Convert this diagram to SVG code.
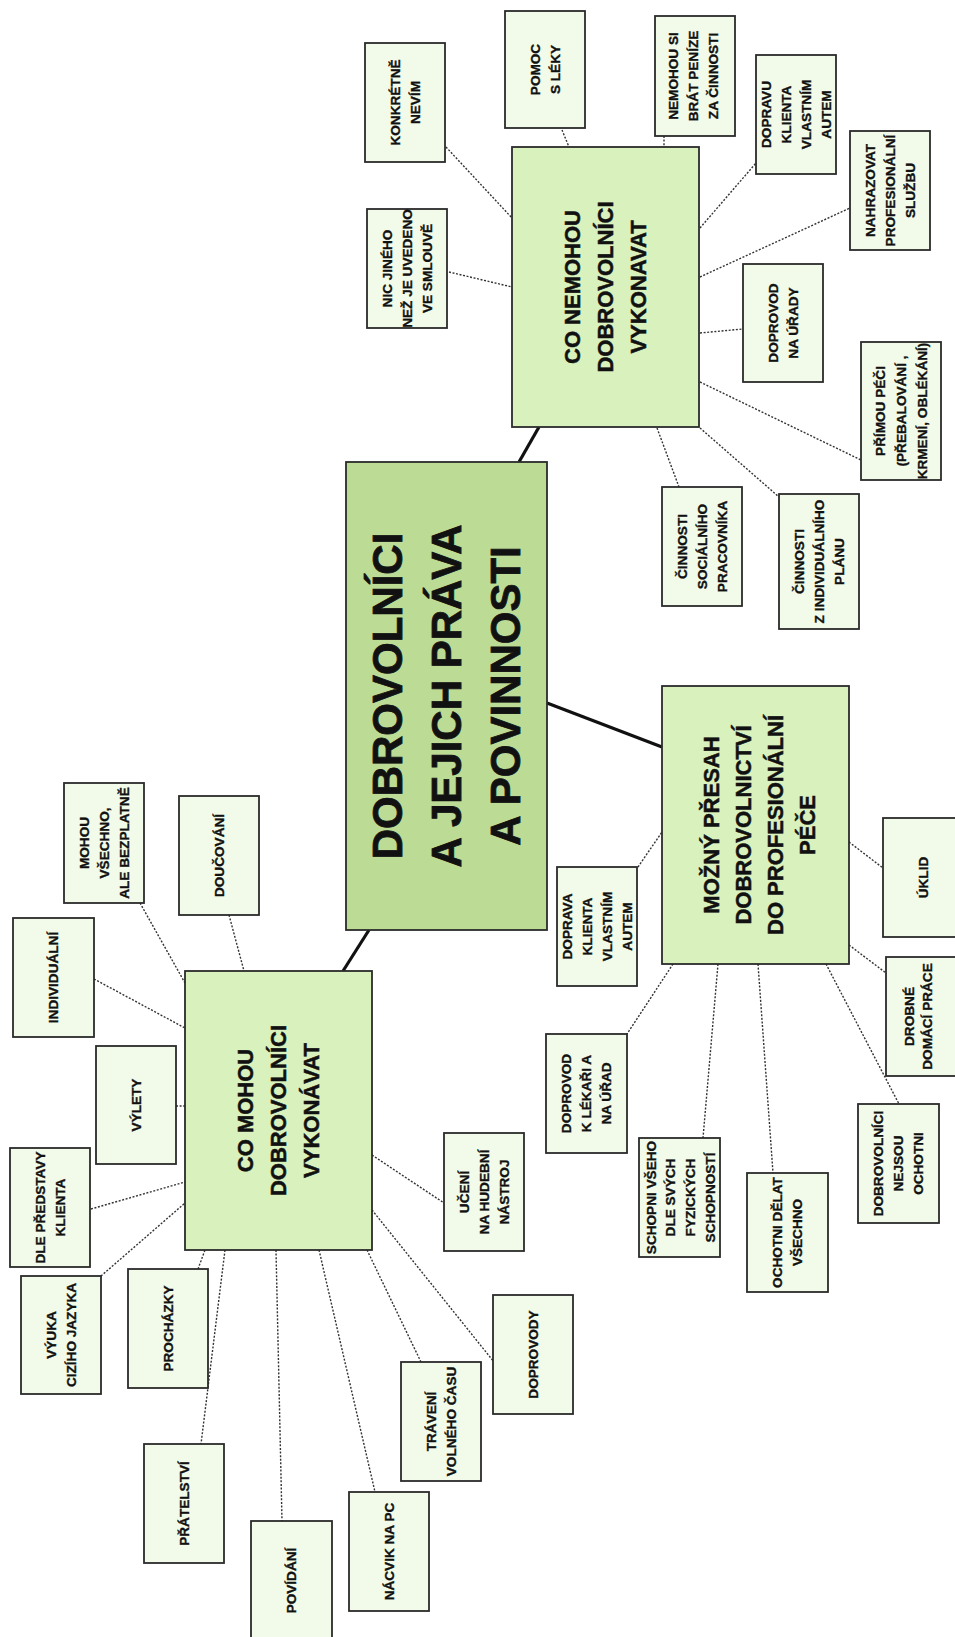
<svg xmlns="http://www.w3.org/2000/svg" width="955" height="1637" viewBox="0 0 955 1637">
<style>
.leaf rect{fill:#f2fbe9;stroke:#2b2b2b;stroke-width:1.8}
.mid rect{fill:#d9f1bd;stroke:#2b2b2b;stroke-width:1.8}
.main rect{fill:#bcdc96;stroke:#2b2b2b;stroke-width:1.8}
text{font-family:"Liberation Sans",Arial,sans-serif;font-weight:bold;fill:#111;stroke:#111;stroke-width:0.35;text-anchor:middle;dominant-baseline:central}
.leaf text{font-size:13.6px}
.mid text{font-size:22px;stroke-width:0.5}
.main text{font-size:42px;stroke-width:0.8}
.dot{stroke:#333;stroke-width:1.4;stroke-dasharray:2 1.6;fill:none}
.solid{stroke:#111;stroke-width:3.2;fill:none}
</style>
<rect width="955" height="1637" fill="#ffffff"/>
<g id="connectors">
<line class="solid" x1="519" y1="462" x2="539" y2="427"/>
<line class="solid" x1="547" y1="703" x2="662" y2="747"/>
<line class="solid" x1="369" y1="930" x2="343" y2="971"/>
<line class="dot" x1="446" y1="147" x2="512" y2="218"/>
<line class="dot" x1="562" y1="130" x2="569" y2="147"/>
<line class="dot" x1="664" y1="136" x2="664" y2="147"/>
<line class="dot" x1="700" y1="228" x2="756" y2="163"/>
<line class="dot" x1="700" y1="277" x2="850" y2="208"/>
<line class="dot" x1="449" y1="272" x2="512" y2="287"/>
<line class="dot" x1="700" y1="333" x2="743" y2="329"/>
<line class="dot" x1="700" y1="382" x2="861" y2="460"/>
<line class="dot" x1="657" y1="428" x2="679" y2="487"/>
<line class="dot" x1="700" y1="428" x2="779" y2="497"/>
<line class="dot" x1="140" y1="903" x2="185" y2="983"/>
<line class="dot" x1="229" y1="915" x2="244" y2="971"/>
<line class="dot" x1="94" y1="979" x2="185" y2="1028"/>
<line class="dot" x1="176" y1="1106" x2="185" y2="1106"/>
<line class="dot" x1="91" y1="1209" x2="185" y2="1182"/>
<line class="dot" x1="101" y1="1276" x2="185" y2="1203"/>
<line class="dot" x1="198" y1="1269" x2="205" y2="1250"/>
<line class="dot" x1="225" y1="1250" x2="201" y2="1444"/>
<line class="dot" x1="276" y1="1250" x2="282" y2="1521"/>
<line class="dot" x1="319" y1="1250" x2="375" y2="1492"/>
<line class="dot" x1="367" y1="1250" x2="421" y2="1362"/>
<line class="dot" x1="372" y1="1210" x2="494" y2="1362"/>
<line class="dot" x1="372" y1="1155" x2="444" y2="1203"/>
<line class="dot" x1="638" y1="867" x2="662" y2="832"/>
<line class="dot" x1="849" y1="842" x2="883" y2="868"/>
<line class="dot" x1="849" y1="945" x2="886" y2="973"/>
<line class="dot" x1="826" y1="964" x2="899" y2="1104"/>
<line class="dot" x1="758" y1="964" x2="773" y2="1173"/>
<line class="dot" x1="718" y1="964" x2="703" y2="1138"/>
<line class="dot" x1="673" y1="964" x2="627" y2="1034"/>
</g>
<g id="main" class="main"><rect x="346" y="462" width="201" height="468"/>
<g transform="translate(446.5,696) rotate(-90)"><text x="0" y="-59">DOBROVOLNÍCI</text><text x="0" y="0">A JEJICH PRÁVA</text><text x="0" y="59">A POVINNOSTI</text></g></g>
<g id="co-nemohou" class="mid"><rect x="512" y="147" width="187" height="280"/>
<g transform="translate(605.5,287) rotate(-90)"><text x="0" y="-33">CO NEMOHOU</text><text x="0" y="0">DOBROVOLNÍCI</text><text x="0" y="33">VYKONAVAT</text></g></g>
<g id="mozny-presah" class="mid"><rect x="662" y="686" width="187" height="278"/>
<g transform="translate(759,825) rotate(-90)"><text x="0" y="-48">MOŽNÝ PŘESAH</text><text x="0" y="-16">DOBROVOLNICTVÍ</text><text x="0" y="16">DO PROFESIONÁLNÍ</text><text x="0" y="48">PÉČE</text></g></g>
<g id="co-mohou" class="mid"><rect x="185" y="971" width="187" height="279"/>
<g transform="translate(278.5,1110.5) rotate(-90)"><text x="0" y="-33">CO MOHOU</text><text x="0" y="0">DOBROVOLNÍCI</text><text x="0" y="33">VYKONÁVAT</text></g></g>

<g id="konkretne" class="leaf"><rect x="365" y="43" width="80" height="119"/>
<g transform="translate(405,102.5) rotate(-90)"><text x="0" y="-10">KONKRÉTNĚ</text><text x="0" y="10">NEVÍM</text></g></g>
<g id="pomoc" class="leaf"><rect x="505" y="11" width="80" height="117"/>
<g transform="translate(545,69.5) rotate(-90)"><text x="0" y="-10">POMOC</text><text x="0" y="10">S LÉKY</text></g></g>
<g id="penize" class="leaf"><rect x="655" y="16" width="80" height="120"/>
<g transform="translate(693,76) rotate(-90)"><text x="0" y="-20">NEMOHOU SI</text><text x="0" y="0">BRÁT PENÍZE</text><text x="0" y="20">ZA ČINNOSTI</text></g></g>
<g id="dopravu" class="leaf"><rect x="756" y="55" width="80" height="119"/>
<g transform="translate(796,114.5) rotate(-90)"><text x="0" y="-30">DOPRAVU</text><text x="0" y="-10">KLIENTA</text><text x="0" y="10">VLASTNÍM</text><text x="0" y="30">AUTEM</text></g></g>
<g id="nahrazovat" class="leaf"><rect x="850" y="131" width="80" height="119"/>
<g transform="translate(890,190.5) rotate(-90)"><text x="0" y="-20">NAHRAZOVAT</text><text x="0" y="0">PROFESIONÁLNÍ</text><text x="0" y="20">SLUŽBU</text></g></g>
<g id="nic-jineho" class="leaf"><rect x="367" y="209" width="80" height="119"/>
<g transform="translate(407,268.5) rotate(-90)"><text x="0" y="-20">NIC JINÉHO</text><text x="0" y="0">NEŽ JE UVEDENO</text><text x="0" y="20">VE SMLOUVĚ</text></g></g>
<g id="doprovod-urady" class="leaf"><rect x="743" y="264" width="80" height="118"/>
<g transform="translate(783,323) rotate(-90)"><text x="0" y="-10">DOPROVOD</text><text x="0" y="10">NA ÚŘADY</text></g></g>
<g id="primou-peci" class="leaf"><rect x="861" y="342" width="80" height="138"/>
<g transform="translate(901,411) rotate(-90)"><text x="0" y="-21">PŘÍMOU PÉČI</text><text x="0" y="0">(PŘEBALOVÁNÍ ,</text><text x="0" y="21">KRMENÍ, OBLÉKÁNÍ)</text></g></g>
<g id="cinnosti-soc" class="leaf"><rect x="662" y="487" width="80" height="119"/>
<g transform="translate(702,546.5) rotate(-90)"><text x="0" y="-20">ČINNOSTI</text><text x="0" y="0">SOCIÁLNÍHO</text><text x="0" y="20">PRACOVNÍKA</text></g></g>
<g id="cinnosti-ind" class="leaf"><rect x="779" y="494" width="80" height="135"/>
<g transform="translate(819,561.5) rotate(-90)"><text x="0" y="-20">ČINNOSTI</text><text x="0" y="0">Z INDIVIDUÁLNÍHO</text><text x="0" y="20">PLÁNU</text></g></g>

<g id="mohou-vsechno" class="leaf"><rect x="64" y="783" width="80" height="120"/>
<g transform="translate(104,843) rotate(-90)"><text x="0" y="-20">MOHOU</text><text x="0" y="0">VŠECHNO,</text><text x="0" y="20">ALE BEZPLATNĚ</text></g></g>
<g id="doucovani" class="leaf"><rect x="179" y="796" width="80" height="119"/>
<g transform="translate(219,855.5) rotate(-90)"><text x="0" y="0">DOUČOVÁNÍ</text></g></g>
<g id="individualni" class="leaf"><rect x="13" y="918" width="81" height="119"/>
<g transform="translate(53.5,977.5) rotate(-90)"><text x="0" y="0">INDIVIDUÁLNÍ</text></g></g>
<g id="vylety" class="leaf"><rect x="96" y="1046" width="80" height="118"/>
<g transform="translate(136,1105) rotate(-90)"><text x="0" y="0">VÝLETY</text></g></g>
<g id="dle-predstavy" class="leaf"><rect x="10" y="1148" width="80" height="119"/>
<g transform="translate(50,1207.5) rotate(-90)"><text x="0" y="-10">DLE PŘEDSTAVY</text><text x="0" y="10">KLIENTA</text></g></g>
<g id="vyuka" class="leaf"><rect x="21" y="1276" width="80" height="118"/>
<g transform="translate(61,1335) rotate(-90)"><text x="0" y="-10">VÝUKA</text><text x="0" y="10">CIZÍHO JAZYKA</text></g></g>
<g id="prochazky" class="leaf"><rect x="128" y="1269" width="80" height="119"/>
<g transform="translate(168,1328.5) rotate(-90)"><text x="0" y="0">PROCHÁZKY</text></g></g>
<g id="pratelstvi" class="leaf"><rect x="144" y="1444" width="80" height="119"/>
<g transform="translate(184,1503.5) rotate(-90)"><text x="0" y="0">PŘÁTELSTVÍ</text></g></g>
<g id="povidani" class="leaf"><rect x="251" y="1521" width="81" height="119"/>
<g transform="translate(291.5,1580.5) rotate(-90)"><text x="0" y="0">POVÍDÁNÍ</text></g></g>
<g id="nacvik" class="leaf"><rect x="349" y="1492" width="80" height="119"/>
<g transform="translate(389,1551.5) rotate(-90)"><text x="0" y="0">NÁCVIK NA PC</text></g></g>
<g id="traveni" class="leaf"><rect x="401" y="1362" width="80" height="119"/>
<g transform="translate(441,1421.5) rotate(-90)"><text x="0" y="-10">TRÁVENÍ</text><text x="0" y="10">VOLNÉHO ČASU</text></g></g>
<g id="doprovody" class="leaf"><rect x="493" y="1295" width="80" height="119"/>
<g transform="translate(533,1354.5) rotate(-90)"><text x="0" y="0">DOPROVODY</text></g></g>
<g id="uceni" class="leaf"><rect x="444" y="1133" width="80" height="118"/>
<g transform="translate(484,1192) rotate(-90)"><text x="0" y="-20">UČENÍ</text><text x="0" y="0">NA HUDEBNÍ</text><text x="0" y="20">NÁSTROJ</text></g></g>

<g id="doprava-klienta" class="leaf"><rect x="557" y="867" width="80" height="119"/>
<g transform="translate(597,926.5) rotate(-90)"><text x="0" y="-30">DOPRAVA</text><text x="0" y="-10">KLIENTA</text><text x="0" y="10">VLASTNÍM</text><text x="0" y="30">AUTEM</text></g></g>
<g id="uklid" class="leaf"><rect x="883" y="818" width="80" height="119"/>
<g transform="translate(923,877.5) rotate(-90)"><text x="0" y="0">ÚKLID</text></g></g>
<g id="drobne" class="leaf"><rect x="886" y="957" width="80" height="119"/>
<g transform="translate(918,1016.5) rotate(-90)"><text x="0" y="-9">DROBNÉ</text><text x="0" y="9">DOMÁCÍ PRÁCE</text></g></g>
<g id="doprovod-lekari" class="leaf"><rect x="546" y="1034" width="81" height="119"/>
<g transform="translate(586.5,1093.5) rotate(-90)"><text x="0" y="-20">DOPROVOD</text><text x="0" y="0">K LÉKAŘI A</text><text x="0" y="20">NA ÚŘAD</text></g></g>
<g id="schopni" class="leaf"><rect x="639" y="1138" width="81" height="119"/>
<g transform="translate(680.5,1197.5) rotate(-90)"><text x="0" y="-29.5">SCHOPNI VŠEHO</text><text x="0" y="-9.8">DLE SVÝCH</text><text x="0" y="9.8">FYZICKÝCH</text><text x="0" y="29.5">SCHOPNOSTÍ</text></g></g>
<g id="ochotni" class="leaf"><rect x="747" y="1173" width="81" height="119"/>
<g transform="translate(787.5,1232.5) rotate(-90)"><text x="0" y="-10">OCHOTNI DĚLAT</text><text x="0" y="10">VŠECHNO</text></g></g>
<g id="nejsou-ochotni" class="leaf"><rect x="858" y="1104" width="81" height="119"/>
<g transform="translate(898.5,1163.5) rotate(-90)"><text x="0" y="-20">DOBROVOLNÍCI</text><text x="0" y="0">NEJSOU</text><text x="0" y="20">OCHOTNI</text></g></g>
</svg>
